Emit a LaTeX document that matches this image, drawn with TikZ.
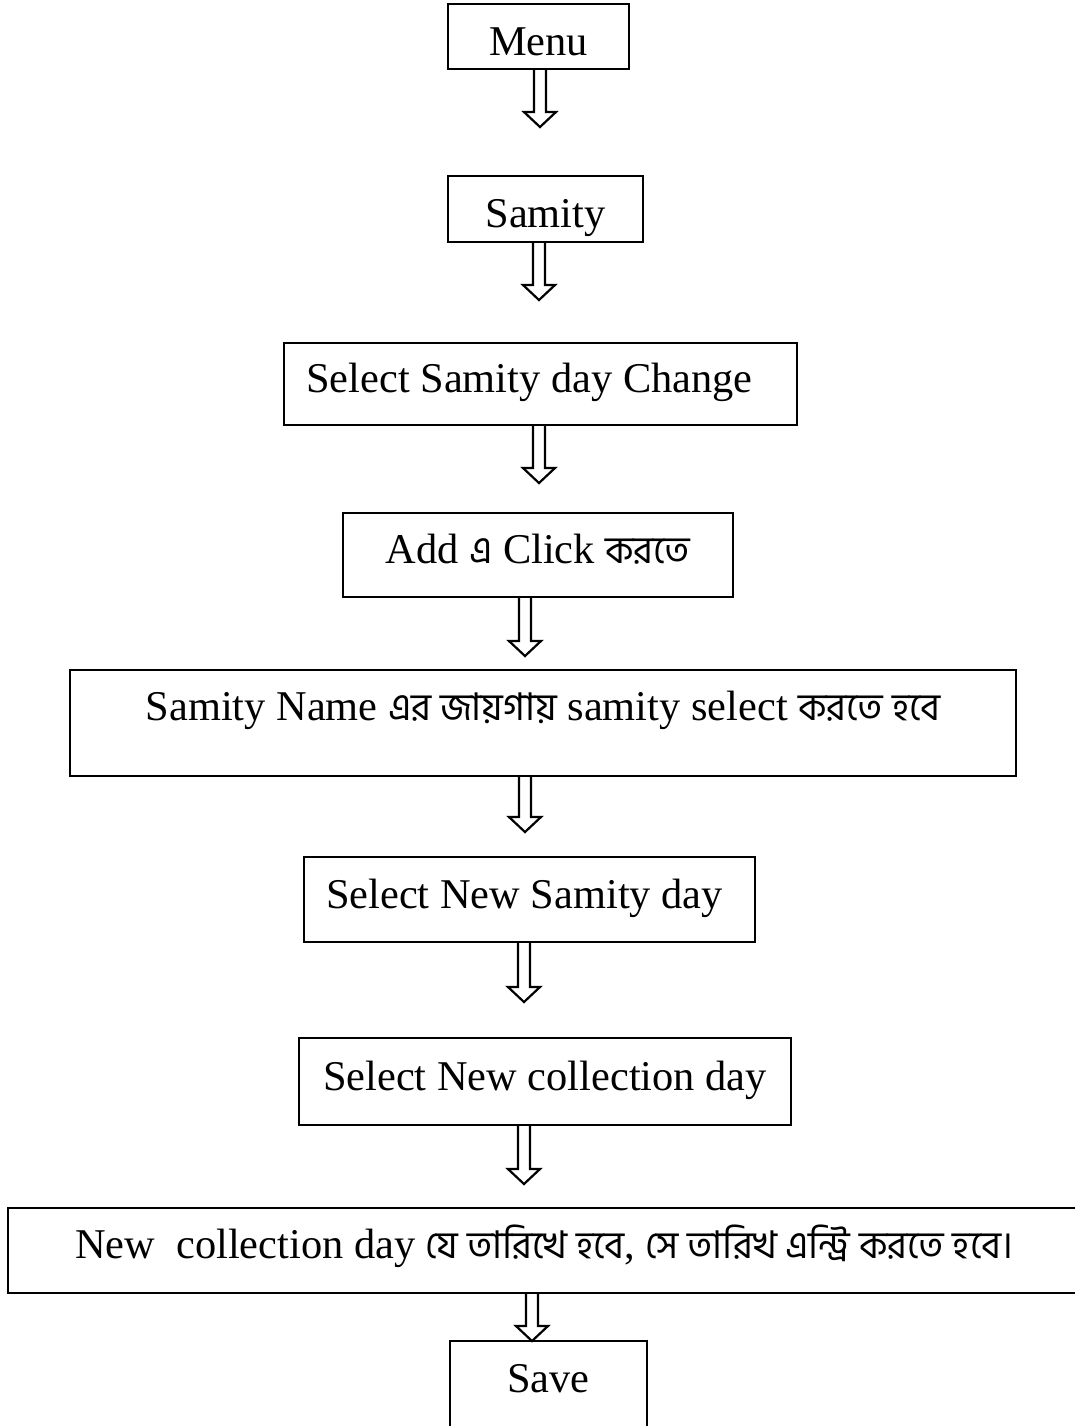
\documentclass[tikz,border=0pt]{standalone}
\usepackage{fontspec}
\setmainfont{Liberation Serif}
\newfontfamily\bn[Script=Bengali,Scale=0.9]{Hind Siliguri}
\usetikzlibrary{positioning, calc}

% hollow down arrow: #1 box it leaves, #2 tip
\newcommand\flowarrow[2]{%
  \draw[blockarrow]
  ($(#2 |- #1.south)+(-6,0)$) -- ($(#2)+(-6,-15)$) -- ($(#2)+(-16,-15)$)
  -- (#2) -- ($(#2)+(16,-15)$) -- ($(#2)+(6,-15)$)
  -- ($(#2 |- #1.south)+(6,0)$);}

\begin{document}
\begin{tikzpicture}[
  x=0.5pt, y=-0.5pt,
  box/.style={draw, line width=1pt, inner sep=0pt, text depth=6pt,
    font=\fontsize{21.2pt}{25pt}\selectfont},
  blockarrow/.style={draw, line width=1.1pt, line join=miter, fill=white}
  ]
  \useasboundingbox (0,0) rectangle (1075,1426);
  \clip (0,0) rectangle (1075,1426);
  \fill[white] (0,0) rectangle (1075,1426);

  \node[
  box,
  minimum width=90.5pt,
  minimum height=32.5pt,
  text height=24.5pt
  ] (menu) at (538.5,36.5) {Menu};
  \node[
  box,
  minimum width=97.5pt,
  minimum height=33pt,
  text height=24pt
  ] (samity) at (545.5,209) {Samity};
  \node[
  box,
  minimum width=256.5pt,
  minimum height=41pt,
  text height=14pt
  ] (change) at (540.5,384) {Select Samity day Change\kern11pt};
  \node[
  box,
  minimum width=195pt,
  minimum height=42pt,
  text height=14pt
  ] (add) at (538,555) {Add {\bn এ} Click {\bn করতে}};
  \node[
  box,
  minimum width=473pt,
  minimum height=53pt,
  text height=3pt
  ] (name) at (543,723) {Samity Name {\bn এর জায়গায়} samity select {\bn করতে হবে}};
  \node[
  box,
  minimum width=225.5pt,
  minimum height=42.5pt,
  text height=15pt
  ] (newday) at (529.5,899.5) {Select New Samity day\kern5pt};
  \node[
  box,
  minimum width=246pt,
  minimum height=43.5pt,
  text height=14.5pt
  ] (colday) at (545,1081.5) {Select New collection day};
  \node[
  box,
  minimum width=536pt,
  minimum height=42.5pt,
  text height=13.5pt
  ] (entry) at (544,1250.5) {New\ \ collection day {\bn যে তারিখে হবে}, {\bn সে তারিখ এন্ট্রি করতে হবে।}};
  \node[
  box,
  minimum width=98.5pt,
  minimum height=50pt,
  text height=7pt
  ] (save) at (548.5,1391) {Save};

  % arrow tips
  \coordinate (t1) at (540,127);
  \coordinate (t2) at (539,300);
  \coordinate (t3) at (539,483);
  \coordinate (t4) at (525,656);
  \coordinate (t5) at (525,832);
  \coordinate (t6) at (524,1002);
  \coordinate (t7) at (524,1184);
  \coordinate (t8) at (532,1341);

  \flowarrow{menu}{t1}
  \flowarrow{samity}{t2}
  \flowarrow{change}{t3}
  \flowarrow{add}{t4}
  \flowarrow{name}{t5}
  \flowarrow{newday}{t6}
  \flowarrow{colday}{t7}
  \flowarrow{entry}{t8}
\end{tikzpicture}
\end{document}
